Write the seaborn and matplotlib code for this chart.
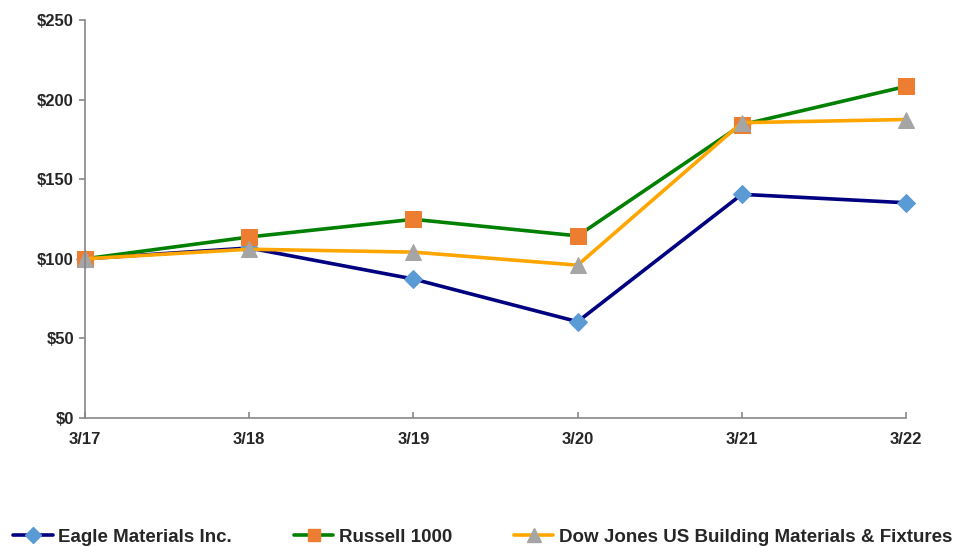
import matplotlib
matplotlib.use("Agg")
import matplotlib.pyplot as plt
import seaborn as sns
import pandas as pd
from matplotlib.lines import Line2D

periods = ["3/17", "3/18", "3/19", "3/20", "3/21", "3/22"]
eagle = [100, 106.8, 87.3, 60.5, 140.5, 135.2]
russell = [100, 113.7, 124.8, 114.4, 184.2, 208.3]
dowjones = [100, 106.0, 104.2, 96.0, 185.5, 187.5]
y_ticks = [0, 50, 100, 150, 200, 250]
y_labels = ["$0", "$50", "$100", "$150", "$200", "$250"]

sns.set_style("white")
plt.rcParams["font.family"] = ["Liberation Sans", "DejaVu Sans"]

fig = plt.figure(figsize=(9.58, 5.47), dpi=100)
ax = fig.add_axes([85/958, 1-418/547, (906-85)/958, (418-20)/547])

xs = list(range(len(periods)))
series = [
    ("Eagle Materials Inc.", eagle, "#000080", "D", "#5B9BD5", 9),
    ("Russell 1000", russell, "#008000", "s", "#ED7D31", 11),
    ("Dow Jones US Building Materials & Fixtures", dowjones, "#FFA500", "^", "#A5A5A5", 12),
]
handles = []
for name, vals, lc, mk, mc, ms in series:
    df = pd.DataFrame({"x": xs, "y": vals})
    sns.lineplot(data=df, x="x", y="y", ax=ax, color=lc, linewidth=2.6,
                 marker=mk, markersize=ms, markerfacecolor=mc, markeredgecolor=mc,
                 legend=False)
    handles.append(Line2D([0], [0], color=lc, linewidth=2.6, marker=mk,
                          markersize=ms*0.85, markerfacecolor=mc, markeredgecolor=mc))

ax.set_xlim(0, len(periods)-1)
ax.set_ylim(0, 250)
ax.set_xticks(xs)
ax.set_xticklabels(periods)
ax.set_yticks(y_ticks)
ax.set_yticklabels(y_labels)
ax.set_xlabel("")
ax.set_ylabel("")
for s in ["top", "right"]:
    ax.spines[s].set_visible(False)
for s in ["left", "bottom"]:
    ax.spines[s].set_color("#888888")
    ax.spines[s].set_linewidth(1.2)
ax.tick_params(axis="x", bottom=True, direction="in", length=4, color="#888888",
               width=1.2, labelsize=12, pad=10)
ax.tick_params(axis="y", left=True, direction="out", length=4, color="#888888",
               width=1.2, labelsize=12, pad=4)
for lbl in ax.get_xticklabels() + ax.get_yticklabels():
    lbl.set_fontweight("bold")
for ln in ax.lines:
    ln.set_clip_on(False)

fig.legend(handles, [s[0] for s in series], loc="center left",
           bbox_to_anchor=(0.004, 1-537/547), ncol=3, frameon=False,
           prop={"size": 13.5, "weight": "bold"}, handlelength=2.1,
           handletextpad=0.3, columnspacing=3.3, borderpad=0)

fig.savefig("out.png", dpi=100)
